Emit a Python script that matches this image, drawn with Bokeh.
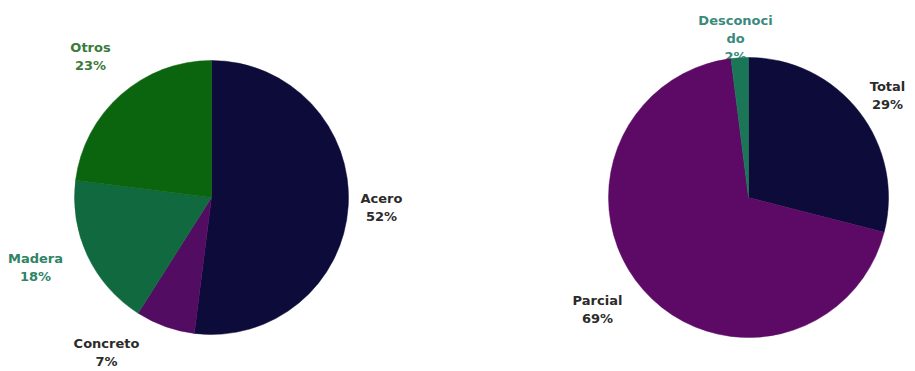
import math
from bokeh.plotting import figure
from bokeh.models import Range1d, ColumnDataSource
from bokeh.core.properties import value
from bokeh.embed import file_html
from bokeh.resources import INLINE

# ---- data ----
material_names = ["Acero", "Concreto", "Madera", "Otros"]
material_pct = [52, 7, 18, 23]
damage_names = ["Total", "Parcial", "Desconocido"]
damage_pct = [29, 69, 2]

# ---- style / layout ----
W, H = 915, 371
material_colors = ["#0c0b3a", "#520c62", "#10693f", "#0b650f"]
damage_colors = ["#0c0b3a", "#5c0a66", "#1a7656"]
material_label_colors = ["#2b2b2b", "#2b2b2b", "#2f8466", "#3a7a3a"]
damage_label_colors = ["#2b2b2b", "#2b2b2b", "#3a8a7c"]
material_label_text = ["Acero", "Concreto", "Madera", "Otros"]
damage_label_text = ["Total", "Parcial", "Desconoci\ndo"]
# label offsets from pie center (pixels, y up)
material_label_off = [(170, -10), (-105, -155), (-176, -70), (-121, 141)]
damage_label_off = [(139, 102), (-151, -112), (-13, 159)]

left_center = (211, H - 197)
right_center = (748, H - 197)
left_r = 137
right_r = 140

p = figure(width=W, height=H, output_backend="svg", toolbar_location=None,
           x_range=Range1d(0, W), y_range=Range1d(0, H), min_border=0)
p.axis.visible = False
p.xgrid.visible = False
p.ygrid.visible = False
p.outline_line_color = None
p.background_fill_color = "white"
p.border_fill_color = "white"


def pie(center, r, names, pct, colors, lab_text, lab_colors, lab_off):
    total = float(sum(pct))
    starts, ends = [], []
    cum = 0.0
    for v in pct:
        a0 = math.pi / 2 - 2 * math.pi * cum / total
        cum += v
        a1 = math.pi / 2 - 2 * math.pi * cum / total
        starts.append(a1)
        ends.append(a0)
    # labels first (the pie covers part of a label in the original)
    texts = [f"{t}\n{v}%" for t, v in zip(lab_text, pct)]
    ls = ColumnDataSource(dict(
        x=[center[0] + o[0] for o in lab_off],
        y=[center[1] + o[1] for o in lab_off],
        t=texts, c=lab_colors))
    p.text(x="x", y="y", text="t", source=ls, text_color="c",
           text_font=value("DejaVu Sans"), text_font_style="bold",
           text_font_size="13px", text_align="center",
           text_baseline="middle", text_line_height=1.2)
    src = ColumnDataSource(dict(
        x=[center[0]] * len(pct), y=[center[1]] * len(pct),
        s=starts, e=ends, c=colors, n=names))
    p.wedge(x="x", y="y", radius=r, start_angle="s", end_angle="e",
            source=src, fill_color="c", line_color="c", line_width=0.5)


pie(left_center, left_r, material_names, material_pct, material_colors,
    material_label_text, material_label_colors, material_label_off)
pie(right_center, right_r, damage_names, damage_pct, damage_colors,
    damage_label_text, damage_label_colors, damage_label_off)

open("out.html", "w").write(file_html(p, INLINE))
